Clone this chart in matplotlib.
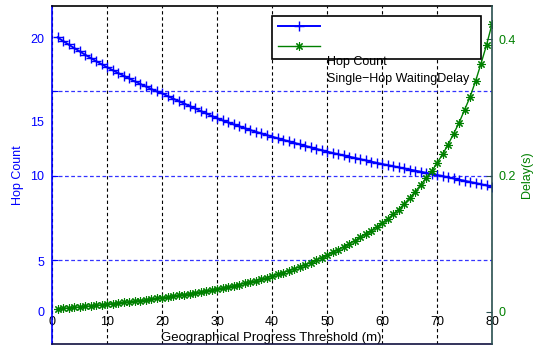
import matplotlib
matplotlib.use("Agg")
import matplotlib.pyplot as plt

plt.rcParams['font.family'] = ['Liberation Sans', 'DejaVu Sans']
font_size = 9

# data
threshold = list(range(1, 81))

hop_count = [20.05, 19.79, 19.53, 19.28, 19.03, 18.79, 18.55, 18.32, 18.09, 17.87,
             17.66, 17.45, 17.25, 17.05, 16.85, 16.66, 16.47, 16.29, 16.11, 15.96,
             15.77, 15.58, 15.40, 15.22, 15.04, 14.86, 14.68, 14.50, 14.32, 14.14,
             13.99, 13.84, 13.70, 13.56, 13.42, 13.29, 13.16, 13.04, 12.92, 12.80,
             12.68, 12.57, 12.46, 12.35, 12.24, 12.13, 12.02, 11.91, 11.81, 11.71,
             11.61, 11.52, 11.43, 11.34, 11.25, 11.16, 11.07, 10.98, 10.89, 10.80,
             10.72, 10.64, 10.56, 10.48, 10.40, 10.32, 10.24, 10.16, 10.08, 10.00,
             9.92, 9.83, 9.75, 9.66, 9.58, 9.49, 9.41, 9.32, 9.24, 9.15]

waiting_delay = [0.0045, 0.0052, 0.0059, 0.0066, 0.0074, 0.0081, 0.0089, 0.0097, 0.0105, 0.0113,
                 0.0122, 0.0131, 0.0140, 0.0149, 0.0158, 0.0168, 0.0178, 0.0188, 0.0199, 0.0210,
                 0.0221, 0.0232, 0.0244, 0.0256, 0.0268, 0.0281, 0.0294, 0.0308, 0.0322, 0.0337,
                 0.0352, 0.0368, 0.0384, 0.0401, 0.0418, 0.0436, 0.0457, 0.0479, 0.0502, 0.0526,
                 0.0551, 0.0577, 0.0604, 0.0632, 0.0661, 0.0692, 0.0724, 0.0758, 0.0794, 0.0832,
                 0.0872, 0.0913, 0.0956, 0.1000, 0.1046, 0.1093, 0.1142, 0.1193, 0.1246, 0.1300,
                 0.136, 0.143, 0.150, 0.158, 0.167, 0.176, 0.186, 0.196, 0.206, 0.218,
                 0.231, 0.245, 0.261, 0.277, 0.296, 0.315, 0.338, 0.364, 0.391, 0.422]

# the left tick labels do not sit on the grid lines in the original
hop_ticks = [0, 3.72, 9.96, 13.87, 20]
hop_tick_labels = ['0', '5', '10', '15', '20']
hop_grid = [3.8, 9.95, 16.15]
delay_ticks = [0, 0.2, 0.4]
delay_tick_labels = ['0', '0.2', '0.4']
x_ticks = list(range(0, 81, 10))

legend_labels = ['Hop Count', 'Single\u2212Hop WaitingDelay']

fig = plt.figure(figsize=(5.36, 3.52), dpi=100)
ax = fig.add_axes([52/536, 8/352, 440/536, 338/352])
ax2 = ax.twinx()

l1, = ax.plot(threshold, hop_count, color='#0000ff', lw=1.4, marker='+', ms=7, mew=1.0)
l2, = ax2.plot(threshold, waiting_delay, color='#008000', lw=1.0, marker=(8, 2, 0), ms=6, mew=0.8)

ax.set_xlim(0, 80)
ax.set_ylim(-2.34, 22.34)
ax2.set_ylim(-0.0469, 0.4484)

# x axis
ax.set_xticks(x_ticks)
ax.tick_params(axis='x', direction='in', length=0, pad=-20.5, labelsize=font_size, labelcolor='black')
ax.grid(axis='x', color='black', ls=(0, (3, 2.5)), lw=0.8)
ax.set_xlabel('Geographical Progress Threshold (m)', fontsize=9.5)
ax.xaxis.set_label_coords(0.498, 0.036)

# left axis
ax.set_yticks(hop_ticks)
ax.set_yticklabels(hop_tick_labels)
ax.tick_params(axis='y', which='major', length=0, pad=5.5, labelsize=font_size, labelcolor='#0000ff')
ax.set_yticks(hop_grid, minor=True)
ax.tick_params(axis='y', which='minor', direction='in', length=4, color='#0000ff', width=0.8)
ax.grid(axis='y', which='minor', color='#3333ff', ls=(0, (3, 2)), lw=0.9)
ax.set_ylabel('Hop Count', color='#0000ff', fontsize=font_size)
ax.yaxis.set_label_coords(-0.064, 0.5)

# right axis
ax2.set_yticks(delay_ticks)
ax2.set_yticklabels(delay_tick_labels)
ax2.tick_params(axis='y', direction='in', length=4, color='#2a5050', pad=5,
                labelsize=font_size, labelcolor='#008000')
ax2.set_ylabel('Delay(s)', color='#008000', fontsize=font_size)
ax2.yaxis.set_label_coords(1.066, 0.5)

ax.spines['left'].set_color('#0000ff')
ax.spines['right'].set_visible(False)
for side in ['left', 'top', 'bottom']:
    ax2.spines[side].set_visible(False)
ax2.spines['right'].set_color('#2a5050')
for side in ['left', 'top', 'bottom']:
    ax.spines[side].set_linewidth(1.2)
ax.spines['top'].set_color('black')
ax.spines['bottom'].set_color('#101040')
ax2.spines['right'].set_linewidth(1.2)

leg = ax2.legend([l1, l2], ['', ''], loc='upper left', bbox_to_anchor=(0.5, 0.849, 0.475, 0.121),
                 mode='expand', handlelength=3.4, fancybox=False, edgecolor='black',
                 framealpha=1, borderpad=0.45, labelspacing=0.6, fontsize=font_size,
                 borderaxespad=0)
leg.get_frame().set_linewidth(1.2)

# legend texts ended up under the box in the original
ax2.text(0.625, 0.835, legend_labels[0], transform=ax2.transAxes, fontsize=font_size,
         va='center', zorder=6)
ax2.text(0.625, 0.785, legend_labels[1], transform=ax2.transAxes, fontsize=font_size,
         va='center', zorder=6)

fig.savefig('out.png', dpi=100)
